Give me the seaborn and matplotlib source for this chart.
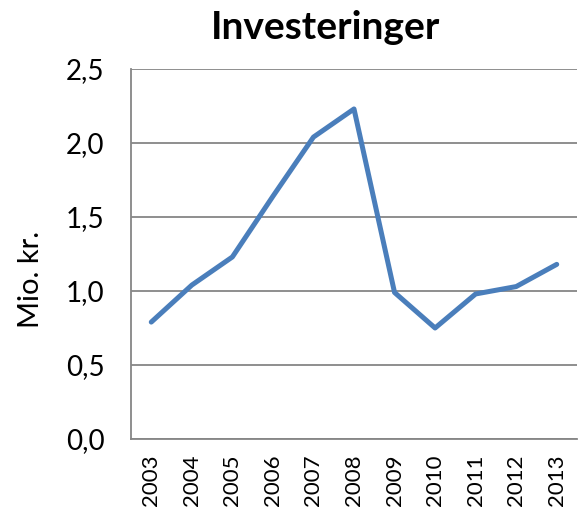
import matplotlib
matplotlib.use('Agg')
import seaborn as sns
import matplotlib.pyplot as plt
from matplotlib.ticker import FuncFormatter, MultipleLocator, FixedLocator

years = ['2003', '2004', '2005', '2006', '2007', '2008',
         '2009', '2010', '2011', '2012', '2013']
investeringer = [0.79, 1.04, 1.23, 1.64, 2.04, 2.23, 0.99, 0.75, 0.98, 1.03, 1.18]

sns.set_style('white')
plt.rcParams['font.family'] = ['Lato', 'DejaVu Sans']
plt.rcParams['text.color'] = 'black'
plt.rcParams['axes.labelcolor'] = 'black'
plt.rcParams['xtick.labelcolor'] = 'black'
plt.rcParams['ytick.labelcolor'] = 'black'

fig = plt.figure(figsize=(5.81, 5.09), dpi=100)
ax = fig.add_axes([131 / 581, 70 / 509, 446 / 581, 370 / 509])

sns.lineplot(x=years, y=investeringer, ax=ax, color='#4a7ebb',
             linewidth=3.6, sort=False, solid_capstyle='round')

grid_col = '#868686'
ax.set_xlim(-0.5, len(years) - 0.5)
ax.set_ylim(0, 2.5)
ax.yaxis.set_major_locator(MultipleLocator(0.5))
ax.yaxis.set_major_formatter(FuncFormatter(lambda v, p: f'{v:.1f}'.replace('.', ',')))
ax.grid(axis='y', color=grid_col, linewidth=1.3)
ax.set_axisbelow(True)

ax.set_xticks(range(len(years)))
ax.set_xticklabels(years, rotation=90, fontsize=16)
ax.xaxis.set_minor_locator(FixedLocator([i - 0.5 for i in range(len(years) + 1)]))
ax.tick_params(axis='x', which='major', length=0, pad=11)
ax.tick_params(axis='x', which='minor', length=6, width=1.3, color=grid_col, direction='out')
ax.tick_params(axis='y', length=8, width=1.3, color=grid_col, direction='out', labelsize=20, pad=11)

for s in ['top', 'right']:
    ax.spines[s].set_visible(False)
for s in ['left', 'bottom']:
    ax.spines[s].set_color(grid_col)
    ax.spines[s].set_linewidth(1.3)

ax.set_xlabel('')
ax.set_ylabel('Mio. kr.', fontsize=21)
ax.yaxis.set_label_coords(-0.195, 0.43)
fig.text(0.56, 0.945, 'Investeringer', ha='center', va='center',
         fontsize=28, fontweight='bold')

fig.savefig('out.png', dpi=100)
